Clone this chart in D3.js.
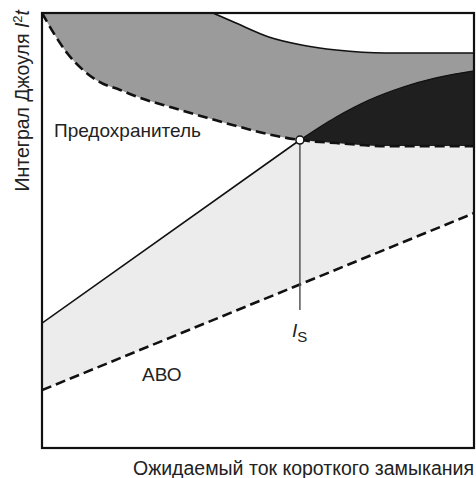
<!DOCTYPE html>
<html>
<head>
<meta charset="utf-8">
<title>Предохранитель и АВО</title>
<script src="https://cdnjs.cloudflare.com/ajax/libs/d3/7.8.5/d3.min.js"></script>
<style>
body { margin: 0; background: #fff; }
text { font-family: "Liberation Sans", Arial, sans-serif; fill: #222; }
</style>
</head>
<body>
<script>
// curve points, chart units (x: 0..100 current, y: 0..100 I2t)
var fuseUpper = [[39.6,100],[44.9,97.7],[52.5,94.5],[60.4,92.6],[68.1,91.5],[79.6,90.8],[100,90.8]];
var fuseLower = [[0,100],[3.0,94.9],[5.8,90.8],[9.5,86.9],[13.4,84.1],[18.1,82.3],[22.7,80.5],[30.3,78.2],
                 [38.2,75.9],[45.8,73.8],[53.5,71.9],[59.7,70.8],[68.1,70.1],[79.6,69.4],[100,69.4]];
var darkUpper = [[59.7,70.8],[68.1,76.1],[75.7,80.0],[83.6,83.0],[91.2,85.1],[100,86.7]];
var breaker = [[0,28.7],[59.7,70.8]];
var aboLine = [[0,13.3],[100,54.0]];
var isX = 59.7, isBottom = 31.7;

var width = 476, height = 478;
var margin = {left: 42, top: 13, right: 2, bottom: 30};

var svg = d3.select("body").append("svg")
  .attr("width", width)
  .attr("height", height);

var x = d3.scaleLinear().domain([0, 100]).range([margin.left, width - margin.right]);
var y = d3.scaleLinear().domain([0, 100]).range([height - margin.bottom, margin.top]);

svg.append("clipPath").attr("id", "plot")
  .append("rect")
  .attr("x", x(0)).attr("y", y(100))
  .attr("width", x(100) - x(0)).attr("height", y(0) - y(100));

var line = d3.line().x(function(d){ return x(d[0]); }).y(function(d){ return y(d[1]); })
  .curve(d3.curveMonotoneX);
var straight = d3.line().x(function(d){ return x(d[0]); }).y(function(d){ return y(d[1]); });

// join two paths into one closed shape
function joined(a, b) {
  return a + "L" + b.slice(1) + "Z";
}

var g = svg.append("g").attr("clip-path", "url(#plot)");

// light region between breaker line / fuse curve and ABO
var rightFuse = fuseLower.filter(function(d){ return d[0] >= isX; });
var lightTop = straight(breaker) + "L" + line(rightFuse).slice(1);
var lightBot = straight(aboLine.slice().reverse());
g.append("path").attr("d", joined(lightTop, lightBot)).attr("fill", "#ececec");

// grey fuse band
g.append("path")
  .attr("d", joined(line(fuseLower), straight([[100,100],[0,100]])))
  .attr("fill", "#9b9b9b");
g.append("path")
  .attr("d", joined(line(fuseUpper), straight([[100,100],[39.6,100]])))
  .attr("fill", "#fff");

// dark zone
g.append("path")
  .attr("d", joined(line(darkUpper), line(rightFuse.slice().reverse())))
  .attr("fill", "#1f1f1f");

// outlines
g.append("path").attr("d", line(fuseUpper)).attr("fill", "none").attr("stroke", "#111").attr("stroke-width", 1.6);
g.append("path").attr("d", line(darkUpper)).attr("fill", "none").attr("stroke", "#111").attr("stroke-width", 1.2);
g.append("path").attr("d", line(fuseLower)).attr("fill", "none").attr("stroke", "#111")
  .attr("stroke-width", 2.6).attr("stroke-dasharray", "10,5");
g.append("path").attr("d", straight(aboLine)).attr("fill", "none").attr("stroke", "#111")
  .attr("stroke-width", 2.6).attr("stroke-dasharray", "10,5");
g.append("path").attr("d", straight(breaker)).attr("fill", "none").attr("stroke", "#111").attr("stroke-width", 1.6);

svg.append("line")
  .attr("x1", x(isX)).attr("x2", x(isX))
  .attr("y1", y(breaker[1][1])).attr("y2", y(isBottom))
  .attr("stroke", "#555").attr("stroke-width", 1.5);

svg.append("circle")
  .attr("cx", x(isX)).attr("cy", y(breaker[1][1])).attr("r", 4)
  .attr("fill", "#fff").attr("stroke", "#111").attr("stroke-width", 1.5);

// frame
svg.append("rect")
  .attr("x", x(0)).attr("y", y(100))
  .attr("width", x(100) - x(0)).attr("height", y(0) - y(100))
  .attr("fill", "none").attr("stroke", "#111").attr("stroke-width", 2.2);

// labels
svg.append("text").attr("x", 54).attr("y", 137).style("font-size", "19px").text("Предохранитель");
svg.append("text").attr("x", 142).attr("y", 381).style("font-size", "19px").text("АВО");

var is = svg.append("text").attr("x", x(isX) - 8).attr("y", 337).style("font-size", "19px");
is.append("tspan").style("font-style", "italic").text("I");
is.append("tspan").attr("dy", 5).style("font-size", "15px").text("S");

svg.append("text")
  .attr("x", 474).attr("y", 475)
  .attr("text-anchor", "end")
  .style("font-size", "19.5px")
  .text("Ожидаемый ток короткого замыкания");

var yl = svg.append("text")
  .attr("transform", "translate(29,10) rotate(-90)")
  .attr("text-anchor", "end")
  .style("font-size", "19.5px");
yl.append("tspan").text("Интеграл Джоуля ");
yl.append("tspan").style("font-style", "italic").text("I");
yl.append("tspan").attr("dy", -7).style("font-size", "13px").text("2");
yl.append("tspan").attr("dy", 7).style("font-style", "italic").text("t");
</script>
</body>
</html>
